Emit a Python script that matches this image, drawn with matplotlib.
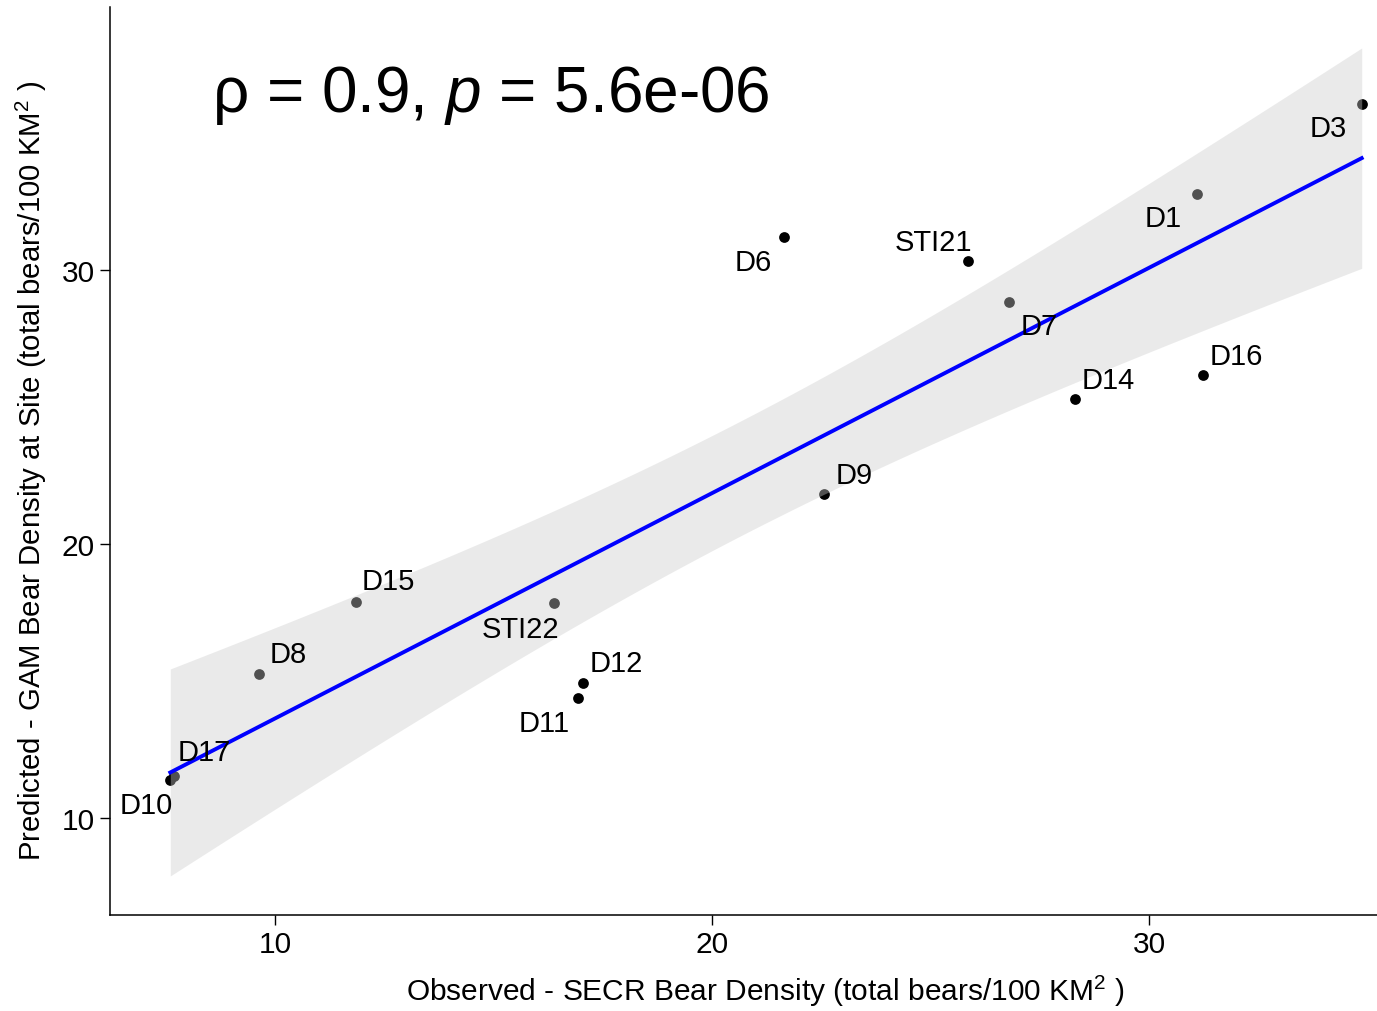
import numpy as np
import matplotlib
matplotlib.use("Agg")
import matplotlib.pyplot as plt

plt.rcParams['font.family'] = ['Liberation Sans', 'DejaVu Sans']
plt.rcParams['mathtext.fontset'] = 'custom'
plt.rcParams['mathtext.rm'] = 'Liberation Sans'
plt.rcParams['mathtext.it'] = 'Liberation Sans:italic'

# ---- data ----
sites = ["D10", "D17", "D8", "D15", "STI22", "D12", "D11", "D9",
         "D6", "STI21", "D7", "D14", "D16", "D1", "D3"]
observed = [7.60, 7.69, 9.63, 11.85, 16.38, 17.05, 16.93, 22.56,
            21.65, 25.86, 26.80, 28.31, 31.24, 31.10, 34.87]
predicted = [11.39, 11.53, 15.26, 17.88, 17.85, 14.93, 14.38, 21.82,
             31.20, 30.33, 28.83, 25.29, 26.17, 32.77, 36.06]
xticks = [10, 20, 30]
yticks = [10, 20, 30]
annot_rho = "0.9"
annot_p = "5.6e-06"

# label offsets (points)
offsets = {"D10": (-17, -18), "D17": (22, 17), "D8": (21, 14), "D15": (23, 15),
           "STI22": (-24, -19), "D12": (24, 14), "D11": (-24, -18), "D9": (22, 14),
           "D6": (-22, -18), "STI21": (-25, 14), "D7": (22, -17), "D14": (24, 14),
           "D16": (24, 14), "D1": (-24, -17), "D3": (-24, -17)}

x = np.array(observed)
y = np.array(predicted)

fig = plt.figure(figsize=(13.77, 10.12), dpi=100)
ax = fig.add_axes([110/1377, 96/1012, 1 - 110/1377, (916-8)/1012])

# points
ax.scatter(x, y, s=60, color='black', zorder=2, linewidths=0)

# linear fit + 95% CI
n = len(x)
b1, b0 = np.polyfit(x, y, 1)
resid = y - (b0 + b1 * x)
s = np.sqrt(np.sum(resid**2) / (n - 2))
sxx = np.sum((x - x.mean())**2)
xs = np.linspace(x.min(), x.max(), 200)
ys = b0 + b1 * xs
t = 2.160
se = s * np.sqrt(1/n + (xs - x.mean())**2 / sxx)
ax.fill_between(xs, ys - t*se, ys + t*se, color='#cccccc', alpha=0.4,
                linewidth=0, zorder=3)
ax.plot(xs, ys, color='#0000ff', lw=2.8, zorder=4)

for name, xi, yi in zip(sites, observed, predicted):
    dx, dy = offsets[name]
    ax.annotate(name, (xi, yi), xytext=(dx, dy), textcoords='offset points',
                ha='center', va='center', fontsize=21, color='black', zorder=5)

ax.text(8.55, 36.4, "ρ = " + annot_rho + ", $\\it{p}$ = " + annot_p,
        fontsize=46, ha='left', va='center', color='black', zorder=6)

ax.set_xlim(6.22, 35.22)
ax.set_ylim(6.46, 39.6)
ax.set_xticks(xticks)
ax.set_yticks(yticks)
ax.tick_params(labelsize=21.5, length=7, width=1, colors='black', pad=4)
for sp in ['top', 'right']:
    ax.spines[sp].set_visible(False)
for sp in ['left', 'bottom']:
    ax.spines[sp].set_linewidth(1.1)

ax.set_xlabel("Observed - SECR Bear Density (total bears/100 KM$^2$ )", fontsize=21.5)
ax.set_ylabel("Predicted - GAM Bear Density at Site (total bears/100 KM$^2$ )", fontsize=21.2)
ax.xaxis.set_label_coords(0.517, -0.064)
ax.yaxis.set_label_coords(-0.048, 0.49)

fig.savefig("out.png", dpi=100)
